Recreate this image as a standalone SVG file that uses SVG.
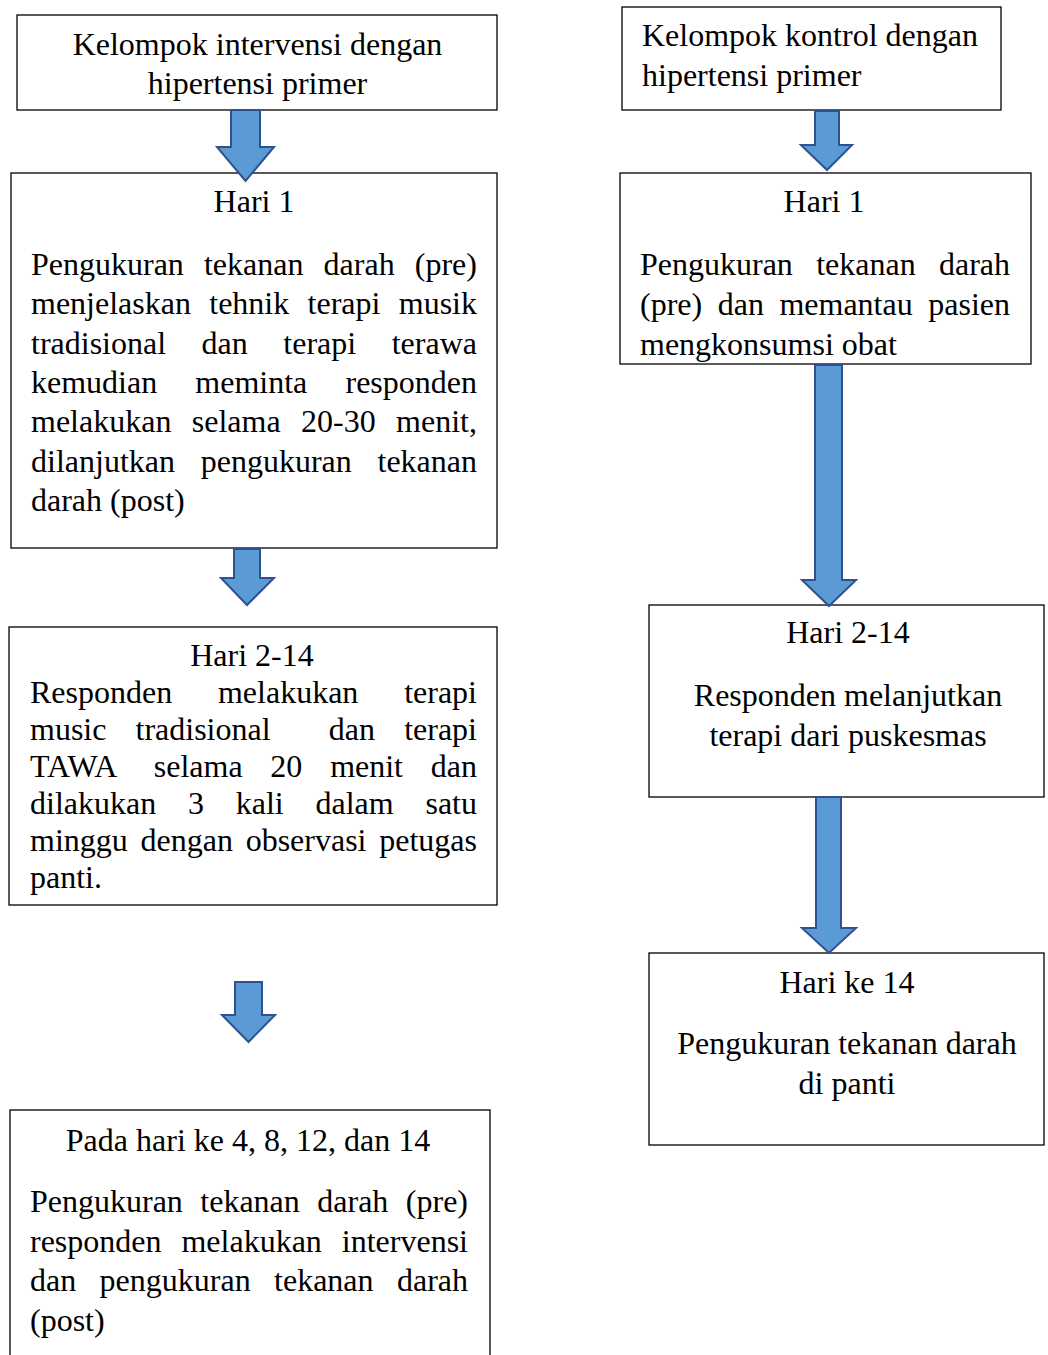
<svg xmlns="http://www.w3.org/2000/svg" width="1048" height="1355" viewBox="0 0 1048 1355">
<style>
.box{fill:#fff;stroke:#000;stroke-width:1.3}
.t{font-family:"Liberation Serif","Times New Roman",serif;font-size:32px;fill:#000}
.c{text-anchor:middle}
.arr{fill:#5B9BD5;stroke:#2F528F;stroke-width:2;stroke-linejoin:miter}
</style>
<defs>
<clipPath id="clipR2"><rect x="620" y="173" width="411" height="189"/></clipPath>
</defs>
<rect width="1048" height="1355" fill="#fff"/>

<g id="node-int-group">
<rect class="box" x="17" y="15" width="480" height="95"/>
<text class="t c" x="257.5" y="55">Kelompok intervensi dengan</text>
<text class="t c" x="257.5" y="94">hipertensi primer</text>
</g>

<g id="node-int-day1">
<rect class="box" x="11" y="173" width="486" height="375"/>
<text class="t c" x="254" y="212">Hari 1</text>
<text class="t" y="275"><tspan x="31">Pengukuran</tspan><tspan x="203.98">tekanan</tspan><tspan x="323.62">darah</tspan><tspan x="414.81">(pre)</tspan></text>
<text class="t" y="314.3"><tspan x="31">menjelaskan</tspan><tspan x="209.28">tehnik</tspan><tspan x="307.59">terapi</tspan><tspan x="398.76">musik</tspan></text>
<text class="t" y="353.6"><tspan x="31">tradisional</tspan><tspan x="201.62">dan</tspan><tspan x="283.35">terapi</tspan><tspan x="391.73">terawa</tspan></text>
<text class="t" y="392.9"><tspan x="31">kemudian</tspan><tspan x="195.35">meminta</tspan><tspan x="345.49">responden</tspan></text>
<text class="t" y="432.2"><tspan x="31">melakukan</tspan><tspan x="191.81">selama</tspan><tspan x="301.06">20-30</tspan><tspan x="396.11">menit,</tspan></text>
<text class="t" y="471.5"><tspan x="31">dilanjutkan</tspan><tspan x="200.71">pengukuran</tspan><tspan x="377.49">tekanan</tspan></text>
<text class="t" x="31" y="510.8">darah (post)</text>
</g>

<g id="node-int-day2-14">
<rect class="box" x="9" y="627" width="488" height="278"/>
<text class="t c" x="252" y="666">Hari 2-14</text>
<text class="t" y="703"><tspan x="30">Responden</tspan><tspan x="217.97">melakukan</tspan><tspan x="404.15">terapi</tspan></text>
<text class="t" y="740"><tspan x="30">music</tspan><tspan x="135.5">tradisional</tspan><tspan x="328.8">dan</tspan><tspan x="404.13">terapi</tspan></text>
<text class="t" y="777"><tspan x="30">TAWA</tspan><tspan x="153.74">selama</tspan><tspan x="270.37">20</tspan><tspan x="330.14">menit</tspan><tspan x="430.81">dan</tspan></text>
<text class="t" y="814"><tspan x="30">dilakukan</tspan><tspan x="187.97">3</tspan><tspan x="235.73">kali</tspan><tspan x="315.49">dalam</tspan><tspan x="425.46">satu</tspan></text>
<text class="t" y="851"><tspan x="30">minggu</tspan><tspan x="140.51">dengan</tspan><tspan x="245.65">observasi</tspan><tspan x="379.23">petugas</tspan></text>
<text class="t" x="30" y="888">panti.</text>
</g>

<g id="node-int-measure">
<rect class="box" x="10" y="1110" width="480" height="260"/>
<text class="t c" x="248" y="1151">Pada hari ke 4, 8, 12, dan 14</text>
<text class="t" y="1212"><tspan x="30">Pengukuran</tspan><tspan x="200.32">tekanan</tspan><tspan x="317.3">darah</tspan><tspan x="405.83">(pre)</tspan></text>
<text class="t" y="1252"><tspan x="30">responden</tspan><tspan x="181.45">melakukan</tspan><tspan x="341.8">intervensi</tspan></text>
<text class="t" y="1291"><tspan x="30">dan</tspan><tspan x="99.59">pengukuran</tspan><tspan x="274.04">tekanan</tspan><tspan x="396.94">darah</tspan></text>
<text class="t" x="30" y="1331">(post)</text>
</g>

<g id="node-ctl-group">
<rect class="box" x="622" y="7" width="379" height="103"/>
<text class="t" x="642" y="46">Kelompok kontrol dengan</text>
<text class="t" x="642" y="86">hipertensi primer</text>
</g>

<g id="node-ctl-day1">
<rect x="620" y="173" width="411" height="191" fill="#fff"/>
<text class="t c" x="824" y="212">Hari 1</text>
<g clip-path="url(#clipR2)">
<text class="t" y="275"><tspan x="640">Pengukuran</tspan><tspan x="816.14">tekanan</tspan><tspan x="938.94">darah</tspan></text>
<text class="t" y="314.5"><tspan x="640">(pre)</tspan><tspan x="717.69">dan</tspan><tspan x="779.41">memantau</tspan><tspan x="928.23">pasien</tspan></text>
<text class="t" x="640" y="355">mengkonsumsi obat</text>
</g>
<rect x="620" y="173" width="411" height="191" fill="none" stroke="#000" stroke-width="1.3"/>
</g>

<g id="node-ctl-day2-14">
<rect class="box" x="649" y="605" width="395" height="192"/>
<text class="t c" x="848" y="643">Hari 2-14</text>
<text class="t c" x="848" y="706">Responden melanjutkan</text>
<text class="t c" x="848" y="746">terapi dari puskesmas</text>
</g>

<g id="node-ctl-day14">
<rect class="box" x="649" y="953" width="395" height="192"/>
<text class="t c" x="847" y="993">Hari ke 14</text>
<text class="t c" x="847" y="1054">Pengukuran tekanan darah</text>
<text class="t c" x="847" y="1094">di panti</text>
</g>

<g id="connectors">
<polygon class="arr" points="231,110 260,110 260,147 274,147 245.5,181 217,147 231,147"/>
<polygon class="arr" points="234,549 260,549 260,578 274,578 247,605 221,578 234,578"/>
<polygon class="arr" points="235,982 262,982 262,1015 275,1015 248.5,1042 222,1015 235,1015"/>
<polygon class="arr" points="815,111 839,111 839,145 852,145 827,170 801,145 815,145"/>
<polygon class="arr" points="815,365 842,365 842,580 856,580 829,606 802,580 815,580"/>
<polygon class="arr" points="816,797 841,797 841,928 856,928 829,953 802,928 816,928"/>
</g>
</svg>
